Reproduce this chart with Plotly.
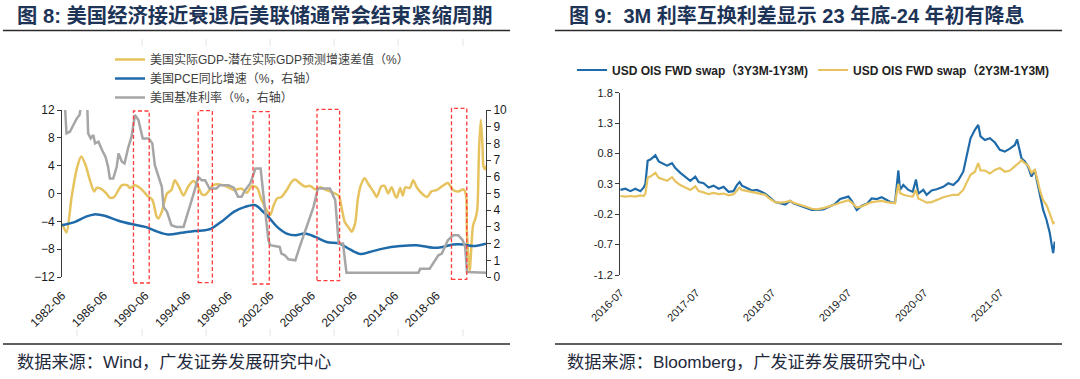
import plotly.graph_objects as go

W, H = 1080, 379

# ---------------- Figure 8 data (left panel) ----------------
gdp_dates = ["1982-06", "1982-11", "1983-05", "1983-11", "1984-04", "1984-09", "1985-02", "1985-07", "1985-10", "1986-04",
             "1986-09", "1987-01", "1987-06", "1987-11", "1988-03", "1988-09", "1988-12", "1989-06", "1989-12", "1990-04",
             "1990-08", "1991-02", "1991-07", "1991-09", "1992-01", "1992-07", "1992-12", "1993-04", "1993-09", "1994-02",
             "1994-07", "1995-01", "1995-05", "1995-09", "1995-11", "1996-03", "1996-08", "1996-12", "1997-08", "1998-04",
             "1998-12", "1999-09", "2000-03", "2000-09", "2001-03", "2001-08", "2002-02", "2002-06", "2002-10", "2003-02",
             "2003-07", "2004-01", "2004-07", "2004-11", "2005-04", "2005-10", "2006-04", "2006-10", "2007-04", "2007-11",
             "2008-07", "2009-01", "2009-05", "2009-08", "2010-01", "2010-04", "2010-08", "2010-11", "2011-02", "2011-07",
             "2011-11", "2012-05", "2012-09", "2013-02", "2013-06", "2013-10", "2014-02", "2014-06", "2014-08", "2014-12",
             "2015-03", "2015-06", "2015-11", "2016-03", "2016-07", "2017-01", "2017-07", "2017-12", "2018-06", "2019-01",
             "2019-07", "2020-01", "2020-07", "2021-01", "2021-04", "2021-05", "2021-08", "2021-12", "2022-03", "2022-05",
             "2022-07", "2022-09", "2022-11", "2022-12", "2023-02", "2023-03"]
gdp_gap = [-4.3, -5.6, -0.5, 3.6, 5.3, 4.1, 1.9, 0.3, 0.8, 0.6,
           0.0, -0.6, -0.5, 0.5, 1.2, 1.2, 0.8, 1.2, 0.8, 0.3,
           -0.3, -0.9, -3.3, -3.6, -2.6, 0.0, 0.5, 1.9, 0.9, -0.3,
           0.9, 1.8, 1.4, 0.4, -0.1, -0.2, 0.5, 1.2, 1.3, 1.0,
           0.5, 0.7, 0.1, 1.1, 0.8, -0.9, -2.4, -3.1, -1.7, -0.7,
           -0.5, 0.5, 1.7, 2.0, 1.5, 1.0, 1.1, 0.6, 0.9, 0.5,
           0.1, -0.3, -2.4, -4.1, -5.0, -5.5, -4.3, -0.9, 1.0, 2.2,
           1.4, 0.3, -0.5, 1.0, 1.1, 0.0, 0.9, -0.3, -0.6, 0.8,
           -0.3, 0.9, 0.8, 1.9, 0.9, 0.0, -0.5, 0.3, 0.5, 1.1,
           1.5, 0.5, 0.3, 0.6, -0.3, -5.7, -11.2, -4.6, -3.5, -2.2,
           6.5, 10.6, 6.5, 3.9, 3.5, 4.0]

pce_dates = ["1982-06", "1983-09", "1984-09", "1985-07", "1986-08", "1987-11", "1989-02", "1990-06", "1991-05", "1992-08",
             "1993-12", "1995-03", "1996-03", "1996-10", "1997-12", "1998-12", "2000-01", "2001-01", "2001-08", "2002-04",
             "2003-02", "2004-01", "2004-11", "2005-10", "2006-10", "2007-11", "2009-02", "2010-02", "2011-02", "2012-01",
             "2013-04", "2014-12", "2016-07", "2018-02", "2019-01", "2020-01", "2021-01", "2021-12", "2023-03"]
pce_yoy = [3.1, 3.3, 3.6, 3.75, 3.65, 3.37, 3.17, 3.0, 2.77, 2.55,
           2.65, 2.75, 2.8, 2.9, 3.4, 3.9, 4.2, 4.3, 4.0, 3.6,
           3.0, 2.6, 2.5, 2.6, 2.4, 2.1, 2.0, 1.65, 1.38, 1.5,
           1.7, 1.85, 1.9, 1.75, 1.8, 1.95, 1.95, 1.85, 2.0]

ffr_dates = ["1982-06", "1982-09", "1982-11", "1983-03", "1983-07", "1983-11", "1984-02", "1984-04", "1984-08", "1984-11",
             "1984-12", "1985-03", "1985-06", "1985-08", "1985-12", "1986-04", "1986-08", "1986-11", "1987-01", "1987-05",
             "1987-09", "1987-11", "1988-03", "1988-06", "1988-10", "1989-02", "1989-06", "1989-10", "1990-03", "1990-10",
             "1991-02", "1991-05", "1991-09", "1992-01", "1992-03", "1992-07", "1992-12", "1993-06", "1994-02", "1994-05",
             "1994-11", "1995-03", "1995-07", "1995-11", "1996-03", "1996-08", "1997-04", "1997-08", "1998-06", "1998-12",
             "1999-05", "1999-09", "2000-01", "2000-07", "2001-01", "2001-07", "2001-10", "2002-01", "2002-04", "2002-06",
             "2003-02", "2003-05", "2003-07", "2003-11", "2004-03", "2004-11", "2005-04", "2005-12", "2006-08", "2007-01",
             "2008-03", "2008-09", "2008-11", "2009-01", "2009-06", "2009-08", "2009-10", "2016-09", "2016-11", "2017-10",
             "2018-04", "2018-08", "2018-12", "2019-03", "2019-07", "2020-01", "2020-07", "2020-12", "2021-03", "2021-05",
             "2023-03"]
ffr = [12.0, 10.5, 8.6, 8.7, 9.1, 9.5, 9.7, 10.5, 11.5, 10.2,
       8.6, 8.3, 8.5, 8.0, 8.1, 7.6, 7.2, 6.6, 5.9, 5.9,
       6.6, 7.4, 6.9, 6.8, 7.7, 8.4, 9.7, 9.4, 8.3, 8.3,
       8.0, 6.7, 6.0, 5.4, 4.2, 3.9, 3.1, 3.0, 3.0, 3.5,
       4.4, 5.2, 6.0, 5.8, 5.8, 5.3, 5.3, 5.5, 5.5, 5.35,
       4.8, 4.8, 5.2, 5.6, 6.5, 6.5, 5.0, 3.4, 2.2, 1.9,
       1.8, 1.8, 1.4, 1.3, 1.06, 1.0, 1.8, 3.0, 4.2, 5.3,
       5.3, 4.6, 3.0, 2.0, 2.0, 1.2, 0.25, 0.25, 0.5, 0.5,
       1.0, 1.3, 1.4, 1.7, 2.2, 2.5, 2.5, 2.2, 1.8, 0.3,
       0.25]

# periods marked with red dashed boxes
box_start = ["1989-04-10", "1995-07-01", "2000-10-05", "2006-12-01", "2019-11-05"]
box_end = ["1990-10-15", "1996-11-10", "2002-05-01", "2009-02-01", "2021-04-25"]

left_ticks = ["1982-06", "1986-06", "1990-06", "1994-06", "1998-06",
              "2002-06", "2006-06", "2010-06", "2014-06", "2018-06"]
left_minor = ["1986-08", "1990-10", "1994-12", "1999-02", "2003-04",
              "2007-06", "2011-08", "2015-10", "2019-12"]

# ---------------- Figure 9 data (right panel) ----------------
ois_dates = ["2016-07-01", "2016-07-25", "2016-08-18", "2016-09-11", "2016-10-05", "2016-10-21", "2016-10-29", "2016-11-09", "2016-11-22", "2016-12-16",
             "2017-01-01", "2017-01-25", "2017-02-10", "2017-03-06", "2017-03-22", "2017-04-15", "2017-05-09", "2017-06-02", "2017-06-26", "2017-07-12",
             "2017-08-05", "2017-08-29", "2017-09-22", "2017-10-16", "2017-11-09", "2017-12-03", "2017-12-27", "2018-01-12", "2018-01-25", "2018-02-05",
             "2018-03-01", "2018-03-25", "2018-04-18", "2018-05-12", "2018-05-28", "2018-06-21", "2018-07-15", "2018-08-08", "2018-09-01", "2018-09-25",
             "2018-10-11", "2018-11-12", "2018-12-14", "2019-01-07", "2019-01-31", "2019-03-04", "2019-04-05", "2019-04-29", "2019-05-23", "2019-06-16",
             "2019-07-02", "2019-07-18", "2019-08-11", "2019-09-04", "2019-09-28", "2019-10-22", "2019-11-15", "2019-12-09", "2020-01-02", "2020-01-26",
             "2020-02-11", "2020-02-19", "2020-02-27", "2020-03-06", "2020-03-22", "2020-04-15", "2020-05-06", "2020-05-22", "2020-06-02", "2020-06-26",
             "2020-07-12", "2020-08-05", "2020-08-29", "2020-09-30", "2020-10-24", "2020-11-17", "2020-12-11", "2021-01-04", "2021-01-20", "2021-02-08",
             "2021-03-01", "2021-03-17", "2021-03-28", "2021-04-18", "2021-05-12", "2021-06-05", "2021-06-29", "2021-07-23", "2021-08-16", "2021-09-09",
             "2021-09-20", "2021-10-03", "2021-10-11", "2021-10-27", "2021-11-12", "2021-11-28", "2021-12-14", "2021-12-25", "2022-01-07", "2022-01-23",
             "2022-02-08", "2022-02-24", "2022-03-04", "2022-03-12", "2022-03-20"]
ois_3y = [0.20, 0.22, 0.18, 0.22, 0.18, 0.24, 0.30, 0.68, 0.70, 0.77,
          0.67, 0.62, 0.60, 0.64, 0.56, 0.48, 0.42, 0.35, 0.42, 0.33,
          0.31, 0.24, 0.27, 0.22, 0.25, 0.17, 0.18, 0.28, 0.33, 0.27,
          0.23, 0.19, 0.20, 0.17, 0.14, 0.07, 0.00, -0.02, -0.04, 0.02,
          -0.02, -0.06, -0.10, -0.13, -0.13, -0.12, -0.07, -0.03, 0.05, 0.07,
          0.09, 0.02, -0.13, -0.06, -0.03, 0.06, 0.05, 0.08, 0.03, -0.01,
          -0.01, 0.30, 0.52, 0.20, 0.28, 0.20, 0.17, 0.37, 0.14, 0.20,
          0.12, 0.19, 0.21, 0.25, 0.31, 0.28, 0.36, 0.50, 0.75, 1.05,
          1.19, 1.27, 1.08, 1.02, 1.05, 0.98, 0.86, 0.83, 0.88, 0.94,
          1.03, 0.83, 0.72, 0.67, 0.58, 0.42, 0.53, 0.34, 0.12, -0.13,
          -0.29, -0.51, -0.68, -0.84, -0.65]
ois_2y = [0.10, 0.09, 0.10, 0.09, 0.11, 0.10, 0.14, 0.40, 0.42, 0.48,
          0.40, 0.37, 0.35, 0.41, 0.34, 0.28, 0.24, 0.20, 0.26, 0.18,
          0.16, 0.13, 0.15, 0.13, 0.14, 0.11, 0.13, 0.20, 0.24, 0.20,
          0.18, 0.16, 0.15, 0.13, 0.12, 0.05, 0.00, -0.01, 0.00, 0.02,
          -0.01, -0.04, -0.08, -0.11, -0.12, -0.10, -0.07, -0.04, -0.01, 0.01,
          0.03, -0.01, -0.09, -0.07, -0.04, 0.00, 0.01, 0.02, 0.00, -0.01,
          -0.02, 0.15, 0.30, 0.15, 0.12, 0.10, 0.09, 0.20, 0.06, 0.02,
          -0.01, 0.00, 0.04, 0.08, 0.10, 0.12, 0.12, 0.20, 0.32, 0.45,
          0.50, 0.64, 0.52, 0.52, 0.47, 0.53, 0.56, 0.50, 0.52, 0.58,
          0.62, 0.66, 0.69, 0.64, 0.60, 0.48, 0.53, 0.39, 0.20, 0.03,
          -0.05, -0.19, -0.27, -0.35, -0.33]

right_ticks = ["2016-07", "2017-07", "2018-07", "2019-07", "2020-07", "2021-07"]
right_yticks = [-1.2, -0.7, -0.2, 0.3, 0.8, 1.3, 1.8]

# ---------------- layout helpers ----------------
def fx(px):
    return px / W


def fy(py):
    return 1 - py / H


FONT = "Liberation Sans, Arial, Noto Sans CJK SC, sans-serif"
GOLD = "#E6C35E"
BLUE = "#1F6BAA"
GREY = "#A6A6A6"
AX = "#3a3a3a"

L_DOM_X = [fx(62), fx(486)]
L_DOM_Y = [fy(277), fy(110)]
R_DOM_X = [fx(620), fx(1055)]
R_DOM_Y = [fy(275), fy(92.7)]
L_RANGE = ["1982-05-28", "2023-03-01"]
R_RANGE = ["2016-06-29", "2022-03-21"]
L_YR = [-12, 12]
R_YR = [-1.2, 1.8]
zero_left = L_DOM_Y[0] + (0 - L_YR[0]) / (L_YR[1] - L_YR[0]) * (L_DOM_Y[1] - L_DOM_Y[0])
zero_right = R_DOM_Y[0] + (0 - R_YR[0]) / (R_YR[1] - R_YR[0]) * (R_DOM_Y[1] - R_DOM_Y[0])

fig = go.Figure()
fig.add_trace(go.Scatter(x=gdp_dates, y=gdp_gap, mode="lines", name="美国实际GDP-潜在实际GDP预测增速差值（%）",
                         line=dict(color=GOLD, width=2.5, shape="spline", smoothing=0.7),
                         xaxis="x", yaxis="y", legend="legend"))
fig.add_trace(go.Scatter(x=pce_dates, y=pce_yoy, mode="lines", name="美国PCE同比增速（%，右轴）",
                         line=dict(color=BLUE, width=2.5, shape="spline"),
                         xaxis="x", yaxis="y2", legend="legend"))
fig.add_trace(go.Scatter(x=ffr_dates, y=ffr, mode="lines", name="美国基准利率（%，右轴）",
                         line=dict(color=GREY, width=2.5),
                         xaxis="x", yaxis="y2", legend="legend"))
fig.add_trace(go.Scatter(x=ois_dates, y=ois_3y, mode="lines", name="USD OIS FWD swap（3Y3M-1Y3M)",
                         line=dict(color=BLUE, width=2.2),
                         xaxis="x3", yaxis="y3", legend="legend2"))
fig.add_trace(go.Scatter(x=ois_dates, y=ois_2y, mode="lines", name="USD OIS FWD swap（2Y3M-1Y3M)",
                         line=dict(color=GOLD, width=2.2),
                         xaxis="x3", yaxis="y3", legend="legend2"))

shapes = []
# title underlines and bottom separators
for x0, x1 in [(3, 510), (555, 1062)]:
    for yy in (30.5, 344):
        shapes.append(dict(type="line", xref="paper", yref="paper", x0=fx(x0), x1=fx(x1), y0=fy(yy), y1=fy(yy),
                           line=dict(color="#2b2b2b", width=1.5)))
# red dashed boxes
box_top = [111, 110.7, 111.7, 109.3, 108.3]
box_bot = [283, 282.7, 284, 280.7, 279.3]
for s, e, t, b in zip(box_start, box_end, box_top, box_bot):
    shapes.append(dict(type="rect", xref="x", yref="paper", x0=s, x1=e, y0=fy(b), y1=fy(t),
                       line=dict(color="#FF3B3B", width=1.3, dash="4px,2.5px"), fillcolor="rgba(0,0,0,0)"))
# faint marks of the left chart frame
for xx in [142, 206, 270, 334, 398, 463]:
    shapes.append(dict(type="line", xref="paper", yref="paper", x0=fx(xx), x1=fx(xx), y0=fy(39), y1=fy(46),
                       line=dict(color="#e4e4e4", width=1)))
for xx in [77, 142, 206, 270, 334, 398, 463]:
    shapes.append(dict(type="line", xref="paper", yref="paper", x0=fx(xx), x1=fx(xx), y0=fy(329), y1=fy(336),
                       line=dict(color="#e4e4e4", width=1)))

TITLE_C = "#1D3457"
annotations = [
    dict(text="<b>图 8: 美国经济接近衰退后美联储通常会结束紧缩周期</b>", x=fx(15), y=fy(15), xref="paper", yref="paper",
         xanchor="left", yanchor="middle", showarrow=False, font=dict(family=FONT, size=20.3, color=TITLE_C)),
    dict(text="<b>图 9:  3M 利率互换利差显示 23 年底-24 年初有降息</b>", x=fx(567), y=fy(15), xref="paper", yref="paper",
         xanchor="left", yanchor="middle", showarrow=False, font=dict(family=FONT, size=20, color=TITLE_C)),
    dict(text="数据来源：Wind，广发证券发展研究中心", x=fx(15), y=fy(362), xref="paper", yref="paper",
         xanchor="left", yanchor="middle", showarrow=False, font=dict(family=FONT, size=17.2, color="#1f2a3d")),
    dict(text="数据来源：Bloomberg，广发证券发展研究中心", x=fx(565), y=fy(362), xref="paper", yref="paper",
         xanchor="left", yanchor="middle", showarrow=False, font=dict(family=FONT, size=17.2, color="#1f2a3d")),
]

tickfont_l = dict(family=FONT, size=12, color="#1a1a1a")
tickfont_r = dict(family=FONT, size=11, color="#1a1a1a")

fig.update_layout(
    width=W, height=H, margin=dict(l=0, r=0, t=0, b=0, autoexpand=False),
    paper_bgcolor="white", plot_bgcolor="rgba(0,0,0,0)",
    font=dict(family=FONT),
    xaxis=dict(domain=L_DOM_X, anchor="y", type="date", range=L_RANGE, tickvals=left_ticks, ticktext=left_ticks,
               tickangle=-45, ticks="outside", ticklen=6, tickcolor="rgba(0,0,0,0)", showline=False,
               showgrid=False, zeroline=False, tickfont=tickfont_l, automargin=False),
    xaxis2=dict(overlaying="x", anchor="free", position=zero_left, type="date", range=L_RANGE,
                tickvals=left_minor, showticklabels=False, ticks="outside", ticklen=4, tickcolor="#111",
                showline=True, linecolor="#111", linewidth=1, showgrid=False, zeroline=False, automargin=False),
    yaxis=dict(domain=L_DOM_Y, anchor="x", range=L_YR, tickvals=[-12, -8, -4, 0, 4, 8, 12],
               ticks="outside", ticklen=4, tickcolor=AX, showline=True, linecolor=AX, linewidth=1,
               showgrid=False, zeroline=False, tickfont=tickfont_l, automargin=False),
    yaxis2=dict(overlaying="y", side="right", anchor="x", range=[0, 10], tickvals=list(range(0, 11)),
                ticks="outside", ticklen=4, tickcolor=AX, showline=True, linecolor=AX, linewidth=1,
                showgrid=False, zeroline=False, tickfont=tickfont_l, automargin=False),
    xaxis3=dict(domain=R_DOM_X, anchor="y3", type="date", range=R_RANGE, tickvals=right_ticks, ticktext=right_ticks,
                tickangle=-45, ticks="outside", ticklen=6, tickcolor="rgba(0,0,0,0)", showline=False,
                showgrid=False, zeroline=False, tickfont=tickfont_r, automargin=False),
    xaxis4=dict(overlaying="x3", anchor="free", position=zero_right, type="date", range=R_RANGE,
                tickvals=right_ticks[1:], showticklabels=False, ticks="outside", ticklen=4, tickcolor="#111",
                showline=True, linecolor="#111", linewidth=1, showgrid=False, zeroline=False, automargin=False),
    yaxis3=dict(domain=R_DOM_Y, anchor="x3", range=R_YR, tickvals=right_yticks,
                ticktext=[f"{v:.1f}" for v in right_yticks],
                ticks="outside", ticklen=4, tickcolor=AX, showline=True, linecolor=AX, linewidth=1,
                showgrid=False, zeroline=False, tickfont=tickfont_r, automargin=False),
    legend=dict(x=fx(110), y=fy(45), xanchor="left", yanchor="top", bgcolor="rgba(0,0,0,0)",
                font=dict(family=FONT, size=12, color="#404040"), tracegroupgap=0),
    legend2=dict(orientation="h", x=fx(572), y=fy(70), xanchor="left", yanchor="middle", bgcolor="rgba(0,0,0,0)",
                 font=dict(family=FONT, size=12, color="#222222", weight="bold")),
    shapes=shapes,
    annotations=annotations,
)

fig.write_html("out.html", config={"displayModeBar": False},
               post_script="document.body.style.margin='0px';document.body.style.overflow='hidden';")
